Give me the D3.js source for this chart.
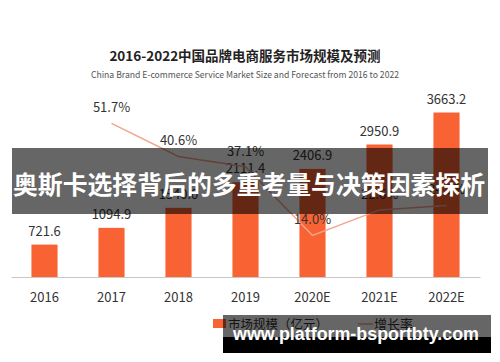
<!DOCTYPE html>
<html><head><meta charset="utf-8">
<script src="https://cdn.jsdelivr.net/npm/d3@7"></script>
<style>html,body{margin:0;padding:0;background:#fff;}svg{display:block;}</style>
</head><body>
<svg id="c" width="500" height="362"></svg>
<script>
const categories = ["2016","2017","2018","2019","2020E","2021E","2022E"];
const marketSize = [721.6, 1094.9, 1540.0, 2111.4, 2406.9, 2950.9, 3663.2];
const growthRate = [null, 51.7, 40.6, 37.1, 14.0, 22.6, 24.1];
const titleText = "2016-2022中国品牌电商服务市场规模及预测";
const subtitleText = "China Brand E-commerce Service Market Size and Forecast from 2016 to 2022";
const legendLabels = ["市场规模（亿元）", "增长率"];
const bannerText = "奥斯卡选择背后的多重考量与决策因素探析";
const watermarkText = "www.platform-bsportbty.com";

const FONT = "'Noto Sans CJK SC','Noto Sans',sans-serif";
const BAR = "#f96334", LINE = "#f3a68c";
const svg = d3.select("#c");

const x = d3.scaleBand().domain(categories).range([11, 480]).paddingInner(0.61).paddingOuter(0.305);
const y = d3.scaleLinear().domain([0, 4000]).range([277, 277 - 4000 * 0.0449]);
const y2 = d3.scaleLinear().domain([0, 60]).range([277, 277 - 60 * 2.97]);

// titles
svg.append("text").attr("x", 245).attr("y", 61).attr("text-anchor", "middle")
  .attr("font-family", FONT).attr("font-size", 13.5).attr("font-weight", "bold").attr("fill", "#222").text(titleText);
svg.append("text").attr("x", 245).attr("y", 77.5).attr("text-anchor", "middle")
  .attr("font-family", FONT).attr("font-size", 9).attr("fill", "#555")
  .attr("textLength", 308).attr("lengthAdjust", "spacingAndGlyphs").text(subtitleText);

// bars
svg.append("g").selectAll("rect").data(marketSize).join("rect")
  .attr("x", (d, i) => x(categories[i])).attr("width", x.bandwidth())
  .attr("y", d => y(d)).attr("height", d => y(0) - y(d)).attr("fill", BAR);

// axis
const ax = svg.append("g").attr("transform", "translate(0,277)")
  .call(d3.axisBottom(x).tickSize(0).tickPadding(16));
ax.select(".domain").attr("stroke", "#c8c8c8");
ax.selectAll("text").attr("font-family", FONT).attr("font-size", 13).attr("fill", "#333");

// value labels
svg.append("g").selectAll("text").data(marketSize).join("text")
  .attr("x", (d, i) => x(categories[i]) + x.bandwidth() / 2).attr("y", d => y(d) - 9)
  .attr("text-anchor", "middle").attr("font-family", FONT).attr("font-size", 13).attr("fill", "#333")
  .text(d => d.toFixed(1));

// line
const pts = growthRate.map((g, i) => ({g, c: categories[i]})).filter(p => p.g != null);
const line = d3.line().x(p => x(p.c) + x.bandwidth() / 2).y(p => y2(p.g));
svg.append("path").datum(pts).attr("d", line).attr("fill", "none").attr("stroke", LINE).attr("stroke-width", 1.5);
svg.append("g").selectAll("text").data(pts).join("text")
  .attr("x", p => x(p.c) + x.bandwidth() / 2).attr("y", p => y2(p.g) - 11)
  .attr("text-anchor", "middle").attr("font-family", FONT).attr("font-size", 13).attr("fill", "#333")
  .text(p => p.g.toFixed(1) + "%");

// banner
svg.append("rect").attr("x", 12).attr("y", 148).attr("width", 476).attr("height", 66).attr("fill", "rgba(0,0,0,0.6)");
svg.append("text").attr("x", 249).attr("y", 194).attr("text-anchor", "middle")
  .attr("font-family", FONT).attr("font-size", 24.5).attr("font-weight", "bold").attr("fill", "#fff")
  .attr("textLength", 472).attr("lengthAdjust", "spacingAndGlyphs").text(bannerText);

// legend
svg.append("rect").attr("x", 213).attr("y", 319).attr("width", 13).attr("height", 9).attr("fill", BAR);
svg.append("text").attr("x", 228).attr("y", 329).attr("font-family", FONT).attr("font-size", 12.5).attr("fill", "#333").text(legendLabels[0]);
svg.append("line").attr("x1", 358).attr("x2", 373).attr("y1", 324).attr("y2", 324).attr("stroke", LINE).attr("stroke-width", 1.5);
svg.append("text").attr("x", 374).attr("y", 329).attr("font-family", FONT).attr("font-size", 13).attr("fill", "#333").text(legendLabels[1]);

// watermark
svg.append("rect").attr("x", 223).attr("y", 315).attr("width", 268).attr("height", 22).attr("fill", "rgba(0,0,0,0.6)");
svg.append("rect").attr("x", 223).attr("y", 337).attr("width", 268).attr("height", 16).attr("fill", "#000");
svg.append("text").attr("x", 233).attr("y", 340).attr("font-family", "'Liberation Sans',Arial,sans-serif")
  .attr("font-size", 18).attr("font-weight", "bold").attr("fill", "#fff")
  .attr("textLength", 246).attr("lengthAdjust", "spacingAndGlyphs").text(watermarkText);
</script>
</body></html>
